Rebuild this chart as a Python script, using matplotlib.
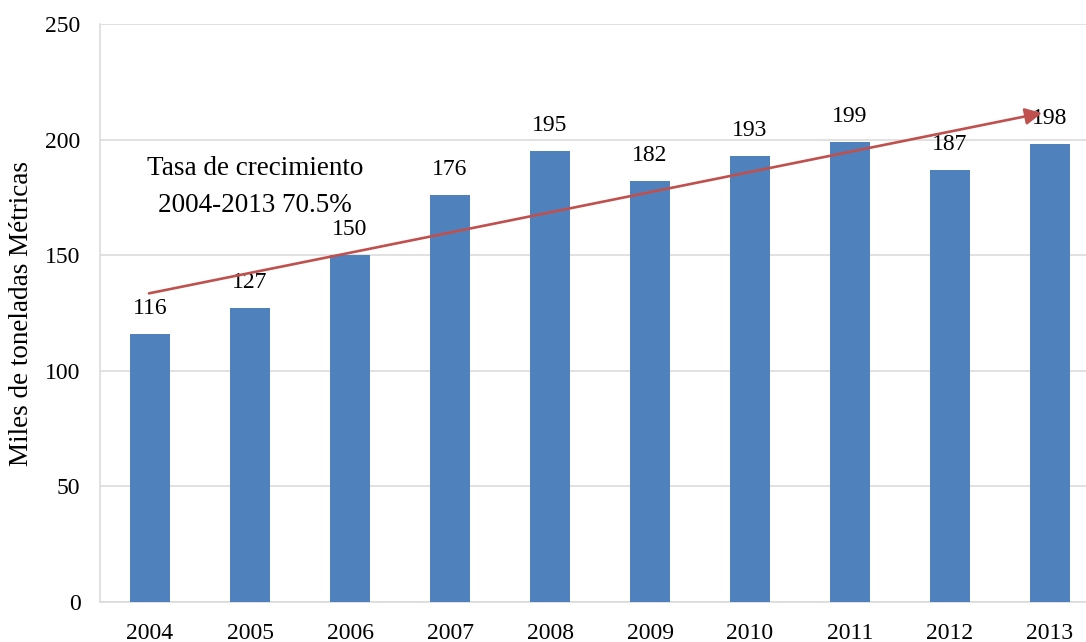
import matplotlib
matplotlib.use("Agg")
import matplotlib.pyplot as plt

years = ["2004", "2005", "2006", "2007", "2008", "2009", "2010", "2011", "2012", "2013"]
values = [116, 127, 150, 176, 195, 182, 193, 199, 187, 198]
yticks = [0, 50, 100, 150, 200, 250]
trend_start = (-0.01, 133.5)
trend_end = (8.92, 211.5)
note_lines = ["Tasa de crecimiento", "2004-2013 70.5%"]

plt.rcParams["font.family"] = ["Liberation Serif", "DejaVu Serif"]
FS = 17
FS_BIG = 19.5
bar_color = "#4F81BD"
grid_color = "#D9D9D9"
arrow_color = "#C0504D"

fig = plt.figure(figsize=(10.86, 6.42), dpi=100)
ax = fig.add_axes([100 / 1086, 40 / 642, 1000 / 1086, 578 / 642])

x = list(range(len(years)))
ax.bar(x, values, width=0.4, color=bar_color, zorder=3)

for xi, v in zip(x, values):
    ax.text(xi, v + 11, str(v), ha="center", va="center", fontsize=FS, color="#000000", zorder=5)

ax.set_xlim(-0.5, len(years) - 0.5)
ax.set_ylim(0, 250)
ax.set_yticks(yticks)
ax.set_yticklabels([str(t) for t in yticks], fontsize=FS)
ax.set_xticks(x)
ax.set_xticklabels(years, fontsize=FS)
ax.tick_params(axis="both", length=0)
ax.tick_params(axis="y", pad=14)
ax.tick_params(axis="x", pad=15)

ax.grid(axis="y", color=grid_color, linewidth=1.1, zorder=0)
for side in ["top", "right"]:
    ax.spines[side].set_visible(False)
for side in ["left", "bottom"]:
    ax.spines[side].set_color(grid_color)
    ax.spines[side].set_linewidth(1.1)

ax.set_ylabel("Miles de toneladas Métricas", fontsize=FS_BIG)
ax.yaxis.set_label_coords(-0.066, 0.5)

ax.annotate("", xy=trend_end, xytext=trend_start,
            arrowprops=dict(arrowstyle="-|>,head_length=1.0,head_width=0.5",
                            color=arrow_color, lw=1.9, shrinkA=0, shrinkB=0),
            zorder=6)

ax.text(1.05, 187.7, note_lines[0], ha="center", va="center", fontsize=FS_BIG)
ax.text(1.05, 171.7, note_lines[1], ha="center", va="center", fontsize=FS_BIG)

fig.savefig("out.png", dpi=100)
